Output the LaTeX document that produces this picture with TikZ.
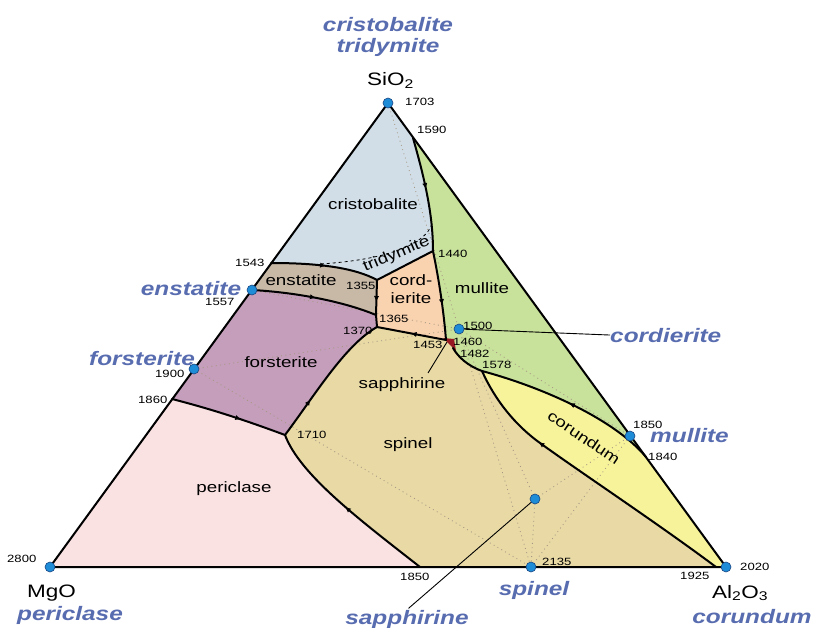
\documentclass[tikz,border=0pt]{standalone}
\usepackage{fontspec}
\setmainfont{Liberation Sans}[FakeStretch=1.25]
\usetikzlibrary{decorations.markings,arrows.meta}
\definecolor{lblue}{RGB}{88,108,176}
\definecolor{cCr}{RGB}{209,222,232}
\definecolor{cMu}{RGB}{200,225,155}
\definecolor{cCo}{RGB}{249,210,175}
\definecolor{cEn}{RGB}{200,184,166}
\definecolor{cFo}{RGB}{196,158,186}
\definecolor{cPe}{RGB}{251,226,226}
\definecolor{cSp}{RGB}{232,217,165}
\definecolor{cCor}{RGB}{246,243,155}
\definecolor{cRed}{RGB}{150,25,35}
\definecolor{dotc}{RGB}{165,152,130}
\definecolor{dotfill}{RGB}{30,140,215}
\definecolor{dotedge}{RGB}{25,70,130}
\tikzset{
  num/.style={font=\fontsize{10.5}{12}\selectfont, inner sep=0pt, anchor=base west},
  reg/.style={font=\fontsize{15}{17}\selectfont, inner sep=0pt, anchor=base},
  blab/.style={font=\fontsize{19.5}{22}\selectfont\bfseries\itshape, text=lblue, inner sep=0pt, anchor=base},
  oxide/.style={font=\fontsize{18}{20}\selectfont, inner sep=0pt, anchor=base west},
  bnd/.style={line width=2pt, line join=round, line cap=round},
  alk/.style={dash pattern=on 0.9pt off 3.5pt, draw=dotc, line width=0.8pt},
  phase/.style={circle, fill=dotfill, draw=dotedge, line width=0.6pt, minimum size=10pt, inner sep=0pt},
  leader/.style={line width=0.9pt},
  arr/.style={postaction={decorate,decoration={markings,mark=at position #1 with {\arrow{Triangle[length=5pt,width=4.5pt]}}}}}
}
\begin{document}
\begin{tikzpicture}[x=1pt,y=-1pt]
\fill[white] (0,0) rectangle (816,628);
\useasboundingbox (0,0) rectangle (816,628);
% corners and boundary points
\coordinate (S) at (388,103);
\coordinate (M) at (50,567);
\coordinate (A) at (726,567);
\coordinate (b1590) at (413,138);
\coordinate (b1543) at (271,263);
\coordinate (bEn) at (252,290);
\coordinate (bFo) at (194,369);
\coordinate (b1860) at (172,399);
\coordinate (b1850) at (420,567);
\coordinate (bSp) at (531,567);
\coordinate (bMu) at (630,436);
\coordinate (b1840) at (646,457);
\coordinate (b1925) at (716,567);
\coordinate (j1440) at (433,251);
\coordinate (j1355) at (377,280);
\coordinate (j1365) at (376,315);
\coordinate (j1370) at (377,327);
\coordinate (j1710) at (285,435);
\coordinate (j1453) at (446,340);
\coordinate (j1482) at (453,348);
\coordinate (j1578) at (482,371);
\coordinate (c540) at (540,443);
\coordinate (pCd) at (459,329);
\coordinate (pSa) at (535,499);
\coordinate (dash1) at (432,224);
\coordinate (dash2) at (320,264);
% fills
\fill[cSp] (S) -- (M) -- (A) -- cycle;
\fill[cPe] (M) -- (b1860) .. controls (215,410) and (250,422) .. (j1710) .. controls (300,475) and (360,520) .. (b1850) -- cycle;
\fill[cFo] (bEn) -- (b1860) .. controls (215,410) and (250,422) .. (j1710) .. controls (315,395) and (345,345) .. (j1370) -- (j1365) .. controls (340,300) and (290,292) .. (bEn) -- cycle;
\fill[cEn] (b1543) .. controls (320,263) and (355,268) .. (j1355) -- (j1365) .. controls (340,300) and (290,292) .. (bEn) -- cycle;
\fill[cCr] (S) -- (b1590) .. controls (425,180) and (433,215) .. (j1440) -- (j1355) .. controls (355,268) and (320,263) .. (b1543) -- cycle;
\fill[cMu] (b1590) -- (b1840) .. controls (615,420) and (545,388) .. (j1578) .. controls (468,366) and (458,357) .. (j1482) -- (j1453) .. controls (444,315) and (440,285) .. (j1440) .. controls (433,215) and (425,180) .. (b1590) -- cycle;
\fill[cCo] (j1440) -- (j1355) -- (j1365) -- (j1370) -- (j1453) .. controls (444,315) and (440,285) .. (j1440) -- cycle;
\fill[cCor] (j1578) .. controls (545,388) and (615,420) .. (b1840) -- (A) -- (b1925) .. controls (660,525) and (580,472) .. (c540) .. controls (515,425) and (495,400) .. (j1578) -- cycle;
\fill[cRed] (443,338) -- (454,339) -- (456,351) -- cycle;
% Alkemade lines
\draw[alk] (S) -- (pCd);
\draw[alk] (bFo) -- (pCd);
\draw[alk] (bEn) -- (pCd);
\draw[alk] (bFo) -- (bSp);
\draw[alk] (pCd) -- (bSp);
\draw[alk] (pSa) -- (bSp);
\draw[alk] (bSp) -- (bMu);
\draw[alk] (pSa) -- (pCd);
\draw[alk] (pSa) -- (bMu);
\draw[alk] (pCd) -- (bMu);
% boundaries
\draw[bnd, arr=0.45] (b1590) .. controls (425,180) and (433,215) .. (j1440);
\draw[bnd] (j1440) -- (j1355);
\draw[dashed, line width=0.8pt] (dash1) .. controls (425,245) and (385,260) .. (dash2);
\draw[bnd, arr=0.5] (b1543) .. controls (320,263) and (355,268) .. (j1355);
\draw[bnd, arr=0.6] (j1355) -- (j1365);
\draw[bnd] (j1365) -- (j1370);
\draw[bnd, arr=0.5] (bEn) .. controls (290,292) and (340,300) .. (j1365);
\draw[bnd, arr=0.6] (b1860) .. controls (215,410) and (250,422) .. (j1710);
\draw[bnd, arr=0.5] (b1850) .. controls (360,520) and (300,475) .. (j1710);
\draw[bnd, arr=0.3] (j1710) .. controls (315,395) and (345,345) .. (j1370);
\draw[bnd, arr=0.5] (j1453) -- (j1370);
\draw[bnd, arr=0.6] (j1440) .. controls (440,285) and (444,315) .. (j1453);
\draw[bnd] (j1578) .. controls (468,366) and (458,357) .. (j1482);
\draw[bnd, arr=0.5] (b1840) .. controls (615,420) and (545,388) .. (j1578);
\draw[bnd, arr=0.7] (b1925) .. controls (660,525) and (580,472) .. (c540) .. controls (515,425) and (495,400) .. (j1578);
% triangle
\draw[bnd] (S) -- (M) -- (A) -- cycle;
% phase points
\node[phase] (nS) at (S) {};
\node[phase] (nM) at (M) {};
\node[phase] (nA) at (A) {};
\node[phase] (nEn) at (bEn) {};
\node[phase] (nFo) at (bFo) {};
\node[phase] (nMu) at (bMu) {};
\node[phase] (nSp) at (bSp) {};
\node[phase] (nCd) at (pCd) {};
\node[phase] (nSa) at (pSa) {};
% oxide labels
\node[oxide] (tSiO) at (367,86) {SiO\textsubscript{2}};
\node[oxide] (tMgO) at (27,597) {MgO};
\node[oxide] (tAlO) at (712,598) {Al\textsubscript{2}O\textsubscript{3}};
% blue mineral labels
\node[blab] (lCr) at (388,32) {cristobalite};
\node[blab] (lTr) at (388,53) {tridymite};
\node[blab] (lEn) at (191,295) {enstatite};
\node[blab] (lFo) at (142,365) {forsterite};
\node[blab, anchor=base west] (lCd) at (610,342) {cordierite};
\node[blab, anchor=base west] (lMu) at (650,442) {mullite};
\node[blab] (lPe) at (70,620) {periclase};
\node[blab] (lSa) at (407,624) {sapphirine};
\node[blab] (lSp) at (534,595) {spinel};
\node[blab] (lCo) at (752,623) {corundum};
% region labels
\node[reg] (rCr) at (373,210) {cristobalite};
\node[reg, rotate=23] (rTr) at (398,258) {tridymite};
\node[reg] (rEn) at (301,285) {enstatite};
\node[reg] (rCo1) at (411,285) {cord-};
\node[reg] (rCo2) at (411,303) {ierite};
\node[reg] (rMu) at (482,293) {mullite};
\node[reg] (rFo) at (281,367) {forsterite};
\node[reg] (rSa) at (402,388) {sapphirine};
\node[reg] (rSp) at (408,448) {spinel};
\node[reg] (rPe) at (234,492) {periclase};
\node[reg, rotate=-34] (rCor) at (581,442) {corundum};
% temperatures
\node[num] (t1703) at (405,106) {1703};
\node[num] (t1590) at (417,134) {1590};
\node[num] (t1440) at (438,258) {1440};
\node[num] (t1543) at (235,266) {1543};
\node[num] (t1355) at (346,290) {1355};
\node[num] (t1557) at (205,305) {1557};
\node[num] (t1365) at (379,322) {1365};
\node[num] (t1370) at (343,334) {1370};
\node[num] (t1500) at (463,329) {1500};
\node[num] (t1460) at (453,345) {1460};
\node[num] (t1453) at (413,348) {1453};
\node[num] (t1482) at (460,357) {1482};
\node[num] (t1578) at (482,368) {1578};
\node[num] (t1900) at (155,377) {1900};
\node[num] (t1860) at (138,403) {1860};
\node[num] (t1850a) at (633,428) {1850};
\node[num] (t1840) at (648,460) {1840};
\node[num] (t1710) at (297,438) {1710};
\node[num] (t2800) at (7,562) {2800};
\node[num] (t2135) at (542,565) {2135};
\node[num] (t2020) at (740,570) {2020};
\node[num] (t1925) at (680,579) {1925};
\node[num] (t1850b) at (400,580) {1850};
% leader lines
\coordinate (ldA) at (428,373);
\coordinate (ldB) at (447,342);
\draw[leader] (nCd) -- (lCd.west);
\draw[leader, shorten >=2pt] (nSa) -- (lSa.north);
\draw[leader] (ldA) -- (ldB);
\end{tikzpicture}
\end{document}
